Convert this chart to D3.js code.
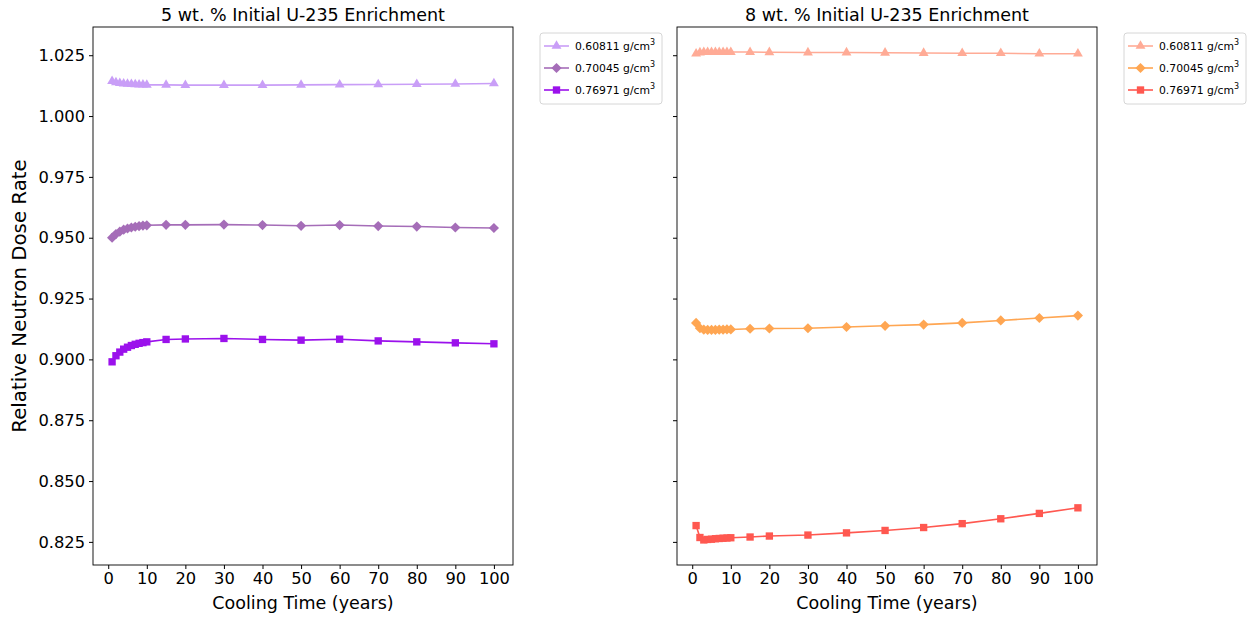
<!DOCTYPE html>
<html><head><meta charset="utf-8">
<script src="https://cdn.jsdelivr.net/npm/d3@7"></script>
<style>body{margin:0;background:#fff;} svg{font-family:"DejaVu Sans",sans-serif;}</style>
</head><body>
<svg id="chart" width="1249" height="618"></svg>
<script>
const years = [1,2,3,4,5,6,7,8,9,10,15,20,30,40,50,60,70,80,90,100];
const seriesNames = ["0.60811", "0.70045", "0.76971"];
const left_A = [1.0143,1.0138,1.0135,1.0133,1.0132,1.0131,1.0130,1.0129,1.0129,1.0128,1.0128,1.0127,1.0127,1.0127,1.0128,1.0129,1.0130,1.0131,1.0132,1.0134];
const left_B = [0.9500,0.9515,0.9525,0.9533,0.9538,0.9542,0.9545,0.9548,0.9550,0.9551,0.9553,0.9553,0.9554,0.9552,0.9549,0.9552,0.9548,0.9546,0.9542,0.9540];
const left_C = [0.8990,0.9015,0.9030,0.9042,0.9050,0.9057,0.9062,0.9066,0.9069,0.9072,0.9082,0.9084,0.9086,0.9082,0.9079,0.9083,0.9076,0.9072,0.9068,0.9064];
const right_A = [1.0256,1.0261,1.0263,1.0263,1.0263,1.0263,1.0263,1.0263,1.0263,1.0263,1.0263,1.0262,1.0261,1.0261,1.0260,1.0259,1.0258,1.0258,1.0256,1.0256];
const right_B = [0.9150,0.9128,0.9122,0.9121,0.9121,0.9121,0.9122,0.9122,0.9123,0.9123,0.9126,0.9127,0.9128,0.9133,0.9138,0.9143,0.9150,0.9160,0.9170,0.9180];
const right_C = [0.8317,0.8268,0.8258,0.8260,0.8261,0.8263,0.8264,0.8265,0.8266,0.8267,0.8270,0.8274,0.8278,0.8287,0.8297,0.8309,0.8325,0.8345,0.8367,0.8390];
const xTicks = [0,10,20,30,40,50,60,70,80,90,100];
const yTicks = [0.825,0.850,0.875,0.900,0.925,0.950,0.975,1.000,1.025];
const titles = ["5 wt. % Initial U-235 Enrichment", "8 wt. % Initial U-235 Enrichment"];
const leftColors = ["#c99ef7", "#a56db8", "#9b11ec"];
const rightColors = ["#ffab96", "#ffa652", "#ff5850"];
const markers = [d3.symbolTriangle, d3.symbolSquare, d3.symbolSquare];
const markerSizes = [42, 52, 54];
const markerRot = [0, 45, 0];

const svg = d3.select("#chart");
const yMin = 0.8155, yMax = 1.0366;
const y = d3.scaleLinear().domain([yMin, yMax]).range([565, 27]);

const panels = [
  {x0: 93, x1: 513, data:[left_A,left_B,left_C], colors:leftColors, title:titles[0], showY:true, legX:540},
  {x0: 677, x1: 1097, data:[right_A,right_B,right_C], colors:rightColors, title:titles[1], showY:false, legX:1124}
];

panels.forEach(p => {
  const x = d3.scaleLinear().domain([-3.95, 104.95]).range([p.x0, p.x1]);
  const g = svg.append("g");
  const xa = g.append("g").attr("transform", `translate(0,565)`)
    .call(d3.axisBottom(x).tickValues(xTicks).tickSize(4).tickPadding(3).tickFormat(d3.format("d")));
  xa.select(".domain").remove();
  xa.selectAll("text").attr("font-size", 16.3).attr("fill", "#000").attr("font-family", "DejaVu Sans");
  xa.selectAll("line").attr("stroke", "#000");
  const ya = g.append("g").attr("transform", `translate(${p.x0},0)`)
    .call(d3.axisLeft(y).tickValues(yTicks).tickSize(4).tickPadding(4).tickFormat(p.showY ? d3.format(".3f") : () => ""));
  ya.select(".domain").remove();
  ya.selectAll("text").attr("font-size", 16.3).attr("fill", "#000").attr("font-family", "DejaVu Sans");
  ya.selectAll("line").attr("stroke", "#000");
  g.append("rect").attr("x", p.x0).attr("y", 27).attr("width", p.x1 - p.x0).attr("height", 565 - 27)
    .attr("fill", "none").attr("stroke", "#000").attr("stroke-width", 0.9);
  g.append("text").attr("x", (p.x0 + p.x1) / 2).attr("y", 21).attr("text-anchor", "middle")
    .attr("font-size", 17.5).text(p.title);
  g.append("text").attr("x", (p.x0 + p.x1) / 2).attr("y", 609).attr("text-anchor", "middle")
    .attr("font-size", 17.5).text("Cooling Time (years)");
  const line = d3.line().x((d, i) => x(years[i])).y(d => y(d));
  p.data.forEach((vals, si) => {
    g.append("path").datum(vals).attr("d", line).attr("fill", "none")
      .attr("stroke", p.colors[si]).attr("stroke-width", 1.6);
    g.selectAll(null).data(vals).enter().append("path")
      .attr("d", d3.symbol().type(markers[si]).size(markerSizes[si]))
      .attr("transform", (d, i) => `translate(${x(years[i])},${y(d)}) rotate(${markerRot[si]})`)
      .attr("fill", p.colors[si]);
  });
  const lg = g.append("g").attr("transform", `translate(${p.legX},33)`);
  lg.append("rect").attr("x", 0).attr("y", 0).attr("width", 122).attr("height", 71).attr("rx", 3)
    .attr("fill", "#fff").attr("stroke", "#d6d6d6").attr("stroke-width", 1);
  seriesNames.forEach((nm, si) => {
    const cy = 13 + si * 22;
    lg.append("line").attr("x1", 4).attr("x2", 29).attr("y1", cy).attr("y2", cy)
      .attr("stroke", p.colors[si]).attr("stroke-width", 1.6);
    lg.append("path").attr("d", d3.symbol().type(markers[si]).size(markerSizes[si]))
      .attr("transform", `translate(16.5,${cy}) rotate(${markerRot[si]})`).attr("fill", p.colors[si]);
    const t = lg.append("text").attr("x", 35).attr("y", cy + 4).attr("font-size", 10.8);
    t.append("tspan").text(nm + " g/cm");
    t.append("tspan").attr("font-size", 8).attr("dy", -5).text("3");
  });
});

svg.append("text").attr("transform", "translate(26,296) rotate(-90)").attr("text-anchor", "middle")
  .attr("font-size", 19.8).text("Relative Neutron Dose Rate");
</script>
</body></html>
